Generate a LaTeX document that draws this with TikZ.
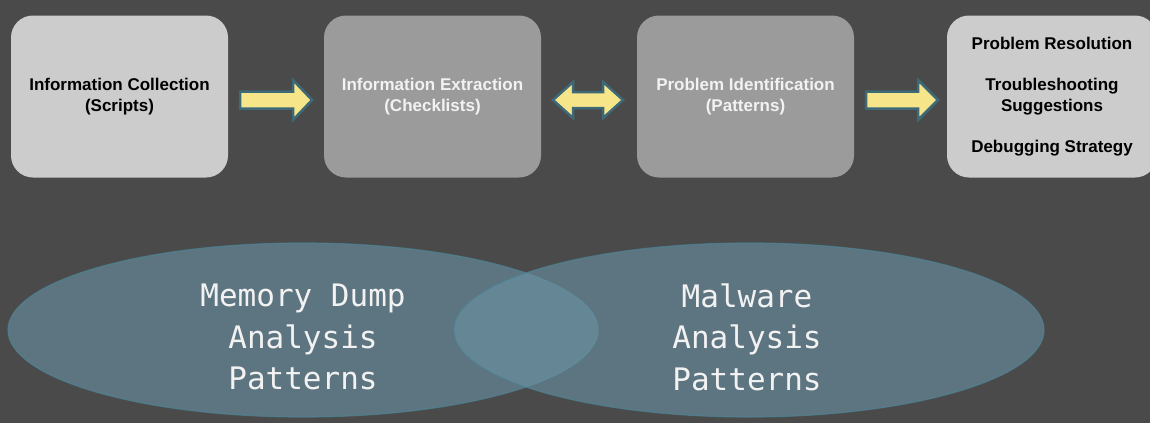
\documentclass[tikz,border=0pt]{standalone}
\usepackage{fontspec}
\setmainfont{Liberation Sans}
\setmonofont{DejaVu Sans Mono}
\usetikzlibrary{shapes.geometric}

\definecolor{bg}{RGB}{74,74,74}
\definecolor{lightbox}{RGB}{204,204,204}
\definecolor{midbox}{RGB}{155,155,155}
\definecolor{arrowfill}{RGB}{247,229,138}
\definecolor{arrowedge}{RGB}{62,106,120}
\definecolor{venn}{RGB}{107,147,164}
\definecolor{vennedge}{RGB}{78,132,150}
\definecolor{paletext}{RGB}{242,242,242}

\begin{document}
\begin{tikzpicture}[x=1pt,y=-1pt,
  stage/.style={rectangle, rounded corners=22pt, minimum width=217pt,
    minimum height=162pt, inner sep=0pt, align=center,
    font=\bfseries\fontsize{17}{20.5}\selectfont},
  lightstage/.style={stage, fill=lightbox, text=black},
  midstage/.style={stage, fill=midbox, text=paletext},
  blockarrow/.style={fill=arrowfill, draw=arrowedge, line width=2.5pt, line join=miter},
  vennset/.style={ellipse, inner sep=0pt, minimum width=590pt, minimum height=174pt,
    fill=venn, fill opacity=0.6, draw=vennedge, draw opacity=0.7, line width=1.2pt},
  vennlabel/.style={align=center, text=paletext,
    font=\ttfamily\fontsize{31}{41.5}\selectfont}]

% canvas
\useasboundingbox (0,0) rectangle (1150,423);
\fill[bg] (0,0) rectangle (1150,423);
\clip (0,0) rectangle (1150,423);

% pipeline stages
\node[lightstage] (collect) at (119.5,96.5) {Information Collection\\(Scripts)};
\node[midstage] (extract) at (432.5,96.5) {Information Extraction\\(Checklists)};
\node[midstage] (identify) at (745.5,96.5) {Problem Identification\\(Patterns)};
\node[lightstage, minimum width=210pt] (resolve) at (1052,96.5)
  {Problem Resolution\\[20.5pt]Troubleshooting\\Suggestions\\[20.5pt]Debugging Strategy};

% block arrows between the stages
\coordinate (a1) at (240,100);
\coordinate (a2) at (553,100);
\coordinate (a3) at (866,100);
\draw[blockarrow] (a1) ++(0,-8.5) -- ++(53,0) -- ++(0,-11.5) -- ++(19,20)
  -- ++(-19,20) -- ++(0,-11.5) -- ++(-53,0) -- cycle;
\draw[blockarrow] (a2) -- ++(20,-18) -- ++(0,10) -- ++(30,0) -- ++(0,-10)
  -- ++(20,18) -- ++(-20,18) -- ++(0,-10) -- ++(-30,0) -- ++(0,10) -- cycle;
\draw[blockarrow] (a3) ++(0,-8.5) -- ++(52,0) -- ++(0,-11.5) -- ++(20,20)
  -- ++(-20,20) -- ++(0,-11.5) -- ++(-52,0) -- cycle;

% overlapping pattern domains
\node[vennset] (mda) at (303,330) {};
\node[vennset] (mal) at (749,330) {};
\node[vennlabel] (mdatext) at (303,337) {Memory Dump\\Analysis\\Patterns};
\node[vennlabel] (maltext) at (747,337) {Malware\\Analysis\\Patterns};
\end{tikzpicture}
\end{document}
